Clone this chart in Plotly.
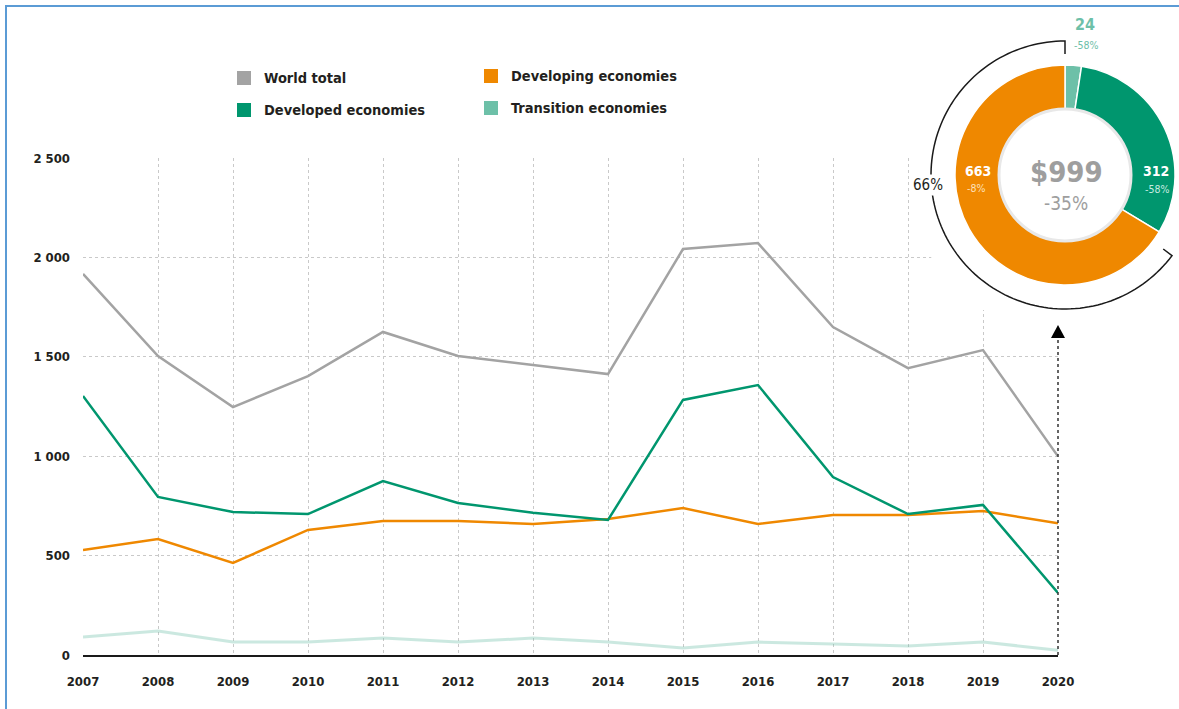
import math
import plotly.graph_objects as go

W, H = 1179, 709

years = list(range(2007, 2021))
world_total = [1917, 1504, 1247, 1403, 1625, 1504, 1459, 1413, 2042, 2072, 1650, 1443, 1534, 999]
developed = [1303, 795, 719, 709, 875, 765, 716, 679, 1283, 1358, 895, 709, 755, 312]
developing = [528, 583, 463, 629, 674, 674, 659, 684, 739, 659, 704, 704, 724, 663]
transition = [90, 121, 65, 65, 85, 65, 85, 65, 35, 65, 55, 45, 65, 24]

pie_labels = ["Transition economies", "Developed economies", "Developing economies"]
pie_values = [24, 312, 663]
pie_changes = ["-58%", "-58%", "-8%"]
total_2020 = "$999"
total_change = "-35%"
developing_share = "66%"

y_tickvals = [0, 500, 1000, 1500, 2000, 2500]
y_ticktext = ["0", "500", "1 000", "1 500", "2 000", "2 500"]

C_WORLD = "#a3a3a3"
C_DEVD = "#00966e"
C_DEVG = "#ef8800"
C_TRANS = "#6dc0a8"
C_TEXT = "#231f20"
FONT = "Liberation Sans Narrow, DejaVu Sans Condensed, Arial Narrow, sans-serif"

def px(x):
    return x / W

def py(y):
    return (H - y) / H

fig = go.Figure()
fig.add_trace(go.Scatter(x=years, y=transition, mode="lines",
                         line=dict(color=C_TRANS, width=3), opacity=0.35,
                         name="Transition economies", showlegend=False))
fig.add_trace(go.Scatter(x=years, y=developing, mode="lines",
                         line=dict(color=C_DEVG, width=2.5),
                         name="Developing economies", showlegend=False))
fig.add_trace(go.Scatter(x=years, y=developed, mode="lines",
                         line=dict(color=C_DEVD, width=2.5),
                         name="Developed economies", showlegend=False))
fig.add_trace(go.Scatter(x=years, y=world_total, mode="lines",
                         line=dict(color=C_WORLD, width=2.5),
                         name="World total", showlegend=False))

# donut
cx, cy, R = 1065, 175, 110
fig.add_trace(go.Pie(labels=pie_labels, values=pie_values, hole=0.6, sort=False,
                     direction="clockwise", rotation=0, textinfo="none",
                     marker=dict(colors=[C_TRANS, C_DEVD, C_DEVG],
                                 line=dict(color="white", width=1.5)),
                     domain=dict(x=[px(cx - R), px(cx + R)], y=[py(cy + R), py(cy - R)]),
                     showlegend=False, hoverinfo="label+value"))

shapes = []
# white cover over grid behind donut
shapes.append(dict(type="rect", xref="x", yref="y", x0=2018.31, x1=2020.3,
                   y0=(655 - 310) / (497 / 2500), y1=2600, fillcolor="white",
                   line=dict(width=0), layer="between"))
# dotted arrow line at 2020
shapes.append(dict(type="line", xref="paper", yref="paper", x0=px(1058), x1=px(1058),
                   y0=py(655), y1=py(338), line=dict(color="#333333", width=1.5, dash="dot")))
shapes.append(dict(type="path", xref="paper", yref="paper",
                   path=f"M {px(1051)} {py(338)} L {px(1065)} {py(338)} L {px(1058)} {py(325)} Z",
                   fillcolor="black", line=dict(width=0)))
# inner ring
ri = 66
shapes.append(dict(type="circle", xref="paper", yref="paper",
                   x0=px(cx - ri), x1=px(cx + ri), y0=py(cy + ri), y1=py(cy - ri),
                   line=dict(color="#e8e8e8", width=3), layer="above"))
# outer bracket arc
Ra = 134
pts = []
for i in range(0, 121):
    th = math.radians(127 + (360 - 127) * i / 120)
    pts.append((cx + Ra * math.sin(th), cy - Ra * math.cos(th)))
t0 = math.radians(127)
start_in = (cx + (Ra - 11) * math.sin(t0), cy - (Ra - 11) * math.cos(t0))
path = f"M {px(start_in[0])} {py(start_in[1])}"
for (a, b) in pts:
    path += f" L {px(a)} {py(b)}"
path += f" L {px(cx)} {py(cy - Ra + 13)}"
shapes.append(dict(type="path", xref="paper", yref="paper", path=path,
                   line=dict(color="#1a1a1a", width=1.5), layer="above"))
# legend squares
for (sx, sy, col) in [(244, 78, C_WORLD), (244, 110, C_DEVD), (491, 76, C_DEVG), (491, 108, C_TRANS)]:
    shapes.append(dict(type="rect", xref="paper", yref="paper",
                       x0=px(sx - 7), x1=px(sx + 7), y0=py(sy + 7), y1=py(sy - 7),
                       fillcolor=col, line=dict(width=0)))
# blue frame
shapes.append(dict(type="line", xref="paper", yref="paper", x0=px(6), x1=px(6), y0=py(5), y1=py(712),
                   line=dict(color="#5b9bd5", width=2)))
shapes.append(dict(type="line", xref="paper", yref="paper", x0=px(5), x1=px(1182), y0=py(6), y1=py(6),
                   line=dict(color="#5b9bd5", width=2)))

ann = []
def text(x, y, s, size, color, bold=True, xanchor="center", bg=None):
    d = dict(x=px(x), y=py(y), xref="paper", yref="paper", text=s, showarrow=False,
             xanchor=xanchor, yanchor="middle",
             font=dict(family=FONT, size=size, color=color, weight="bold" if bold else "normal"))
    if bg:
        d["bgcolor"] = bg
    ann.append(d)

text(262, 78, "World total", 14.5, C_TEXT, xanchor="left")
text(262, 110, "Developed economies", 14.5, C_TEXT, xanchor="left")
text(509, 76, "Developing economies", 14.5, C_TEXT, xanchor="left")
text(509, 108, "Transition economies", 14.5, C_TEXT, xanchor="left")

text(1066, 172, total_2020, 29, "#9e9e9e")
text(1066, 203, total_change, 19, "#9e9e9e", bold=False)
text(1156, 171, str(pie_values[1]), 14, "white")
text(1157, 189, pie_changes[1], 10.5, "#c8ebe0", bold=False)
text(978, 171, str(pie_values[2]), 14, "white")
text(976, 188, pie_changes[2], 10.5, "#fde0bb", bold=False)
text(1085, 25, str(pie_values[0]), 16, C_TRANS)
text(1086, 45, pie_changes[0], 10.5, C_TRANS, bold=False)
text(928, 185, developing_share, 15, C_TEXT, bold=False, bg="white")

fig.update_layout(
    width=W, height=H, margin=dict(l=0, r=0, t=0, b=0, pad=0, autoexpand=False),
    paper_bgcolor="white", plot_bgcolor="white",
    shapes=shapes, annotations=ann,
    xaxis=dict(domain=[83 / W, 1058 / W], range=[2007, 2020], tickvals=years,
               ticktext=[str(y) for y in years], showgrid=True, gridcolor="#c9c9c9",
               griddash="dot", gridwidth=1, showline=True, linecolor="#1a1a1a", linewidth=2,
               zeroline=False, ticks="", ticklabelstandoff=13, automargin=False,
               tickfont=dict(family=FONT, size=13, color=C_TEXT, weight="bold")),
    yaxis=dict(domain=[(H - 655) / H, (H - 158) / H], range=[0, 2500], tickvals=y_tickvals,
               ticktext=y_ticktext, showgrid=True, gridcolor="#c9c9c9", griddash="dot",
               gridwidth=1, zeroline=False, showline=False, ticks="", ticklabelstandoff=12,
               automargin=False,
               tickfont=dict(family=FONT, size=13, color=C_TEXT, weight="bold")),
    showlegend=False,
)

fig.write_html("out.html")
